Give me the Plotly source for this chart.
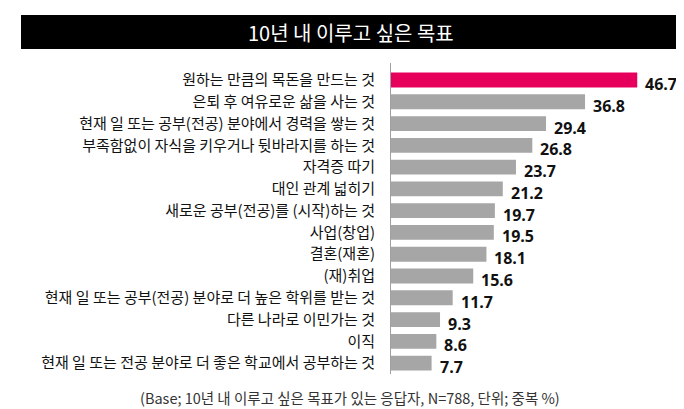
import plotly.graph_objects as go

# data, top to bottom as in the chart
goals = [
    "원하는 만큼의 목돈을 만드는 것",
    "은퇴 후 여유로운 삶을 사는 것",
    "현재 일 또는 공부(전공) 분야에서 경력을 쌓는 것",
    "부족함없이 자식을 키우거나 뒷바라지를 하는 것",
    "자격증 따기",
    "대인 관계 넓히기",
    "새로운 공부(전공)를 (시작)하는 것",
    "사업(창업)",
    "결혼(재혼)",
    "(재)취업",
    "현재 일 또는 공부(전공) 분야로 더 높은 학위를 받는 것",
    "다른 나라로 이민가는 것",
    "이직",
    "현재 일 또는 전공 분야로 더 좋은 학교에서 공부하는 것",
]
pct = [46.7, 36.8, 29.4, 26.8, 23.7, 21.2, 19.7, 19.5, 18.1, 15.6, 11.7, 9.3, 8.6, 7.7]

title_text = "10년 내 이루고 싶은 목표"
note_text = "(Base; 10년 내 이루고 싶은 목표가 있는 응답자, N=788, 단위; 중복 %)"

W, H = 684, 409
L, R, T, B = 383, 11, 55, 43

colors = ["#E6005C"] + ["#A6A6A6"] * (len(pct) - 1)


def px_x(p):
    return (p - L) / (W - L - R)


def px_y(p):
    return (H - B - p) / (H - T - B)


fig = go.Figure()
fig.add_trace(go.Bar(
    x=pct, y=goals, orientation="h",
    marker=dict(color=colors, line=dict(width=0)),
    width=0.68, hoverinfo="x+y",
))

for g, v in zip(goals, pct):
    fig.add_annotation(
        x=v, y=g, text=f"{v:.1f}", showarrow=False,
        xanchor="left", yanchor="middle", xshift=6, yshift=-4,
        font=dict(family="Open Sans", size=16, color="#111111", weight="bold"),
    )

# title bar
fig.add_shape(type="rect", xref="paper", yref="paper",
              x0=px_x(13), x1=px_x(672), y0=px_y(41), y1=px_y(7),
              fillcolor="black", line=dict(width=0), layer="above")
fig.add_annotation(xref="paper", yref="paper", x=px_x(343), y=px_y(24),
                   text=title_text, showarrow=False,
                   xanchor="center", yanchor="middle",
                   font=dict(family="Noto Sans CJK KR", size=20, color="white"))

fig.add_annotation(xref="paper", yref="paper", x=px_x(342), y=px_y(389),
                   text=note_text, showarrow=False,
                   xanchor="center", yanchor="middle",
                   font=dict(family="Noto Sans CJK KR", size=14.5, color="#333333"))

fig.update_xaxes(range=[0, 55], visible=False, fixedrange=True)
fig.update_yaxes(
    autorange="reversed", categoryorder="array", categoryarray=goals,
    showline=True, linecolor="#A0A0A0", linewidth=1,
    showgrid=False, zeroline=False, ticks="", ticklabelstandoff=12,
    tickfont=dict(family="Noto Sans CJK KR", size=15, color="#111111"),
)

fig.update_layout(
    width=W, height=H,
    margin=dict(l=L, r=R, t=T, b=B, autoexpand=False),
    plot_bgcolor="white", paper_bgcolor="white",
    showlegend=False, bargap=0.32,
)

fig.write_html("out.html")
